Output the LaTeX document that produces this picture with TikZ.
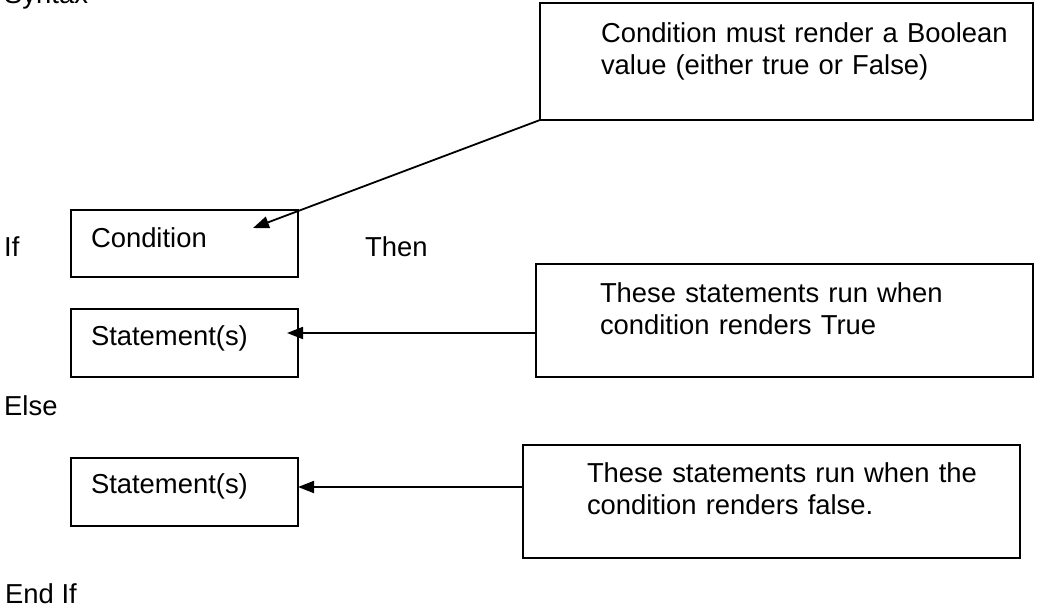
\documentclass[tikz,border=0pt]{standalone}
\usepackage{fontspec}
\setmainfont{Liberation Sans}
\usetikzlibrary{arrows.meta}

\tikzset{
  codebox/.style={draw, line width=2pt, inner sep=0pt, outer sep=0pt, anchor=north west},
  padl/.style={execute at begin node={\leftskip=#1\relax}},
  word/.style={inner sep=0pt, anchor=base west},
  pointer/.style={-{Triangle[length=16pt,width=12pt]}, line width=1.8pt},
}

\begin{document}
\begin{tikzpicture}[x=1pt, y=-1pt, font=\fontsize{27.4}{32}\selectfont]
  \useasboundingbox (0,0) rectangle (1037,608);

  % Keywords of the syntax
  \node[word] (syntax) at (4,3) {Syntax};
  \node[word] (if) at (4,256) {If};
  \node[word] (then) at (365,256) {Then};
  \node[word] (else) at (4,415) {Else};
  \node[word] (endif) at (5,603) {End If};

  % Boxes of the statement
  \node[codebox, padl=20pt, text width=227pt, text height=37pt, text depth=30pt] (cond) at (71,210) {Condition};
  \node[codebox, padl=20pt, text width=227pt, text height=36pt, text depth=32pt] (thenstmt) at (71,309) {Statement(s)};
  \node[codebox, padl=20pt, text width=227pt, text height=35pt, text depth=33pt] (elsestmt) at (71,458) {Statement(s)};

  % Notes on the right
  \node[codebox, padl=61pt, text width=493pt, text height=39pt, text depth=78pt] (note) at (540,3)
    {Condition must render a Boolean\\ value (either true or False)};
  \node[codebox, padl=64pt, text width=497pt, text height=38pt, text depth=75pt] (truenote) at (536,264)
    {These statements run when\\ condition renders True};
  \node[codebox, padl=64pt, text width=497pt, text height=37pt, text depth=76pt] (falsenote) at (523,445)
    {These statements run when the\\ condition renders false.};

  % Pointers from the notes
  \coordinate (condtip) at (253,228);
  \coordinate (thentip) at (287,333);
  \coordinate (elsetip) at (298,487);
  \draw[pointer] (note.south west) -- (condtip);
  \draw[pointer] (truenote.west |- thentip) -- (thentip);
  \draw[pointer] (falsenote.west |- elsetip) -- (elsetip);
\end{tikzpicture}
\end{document}
